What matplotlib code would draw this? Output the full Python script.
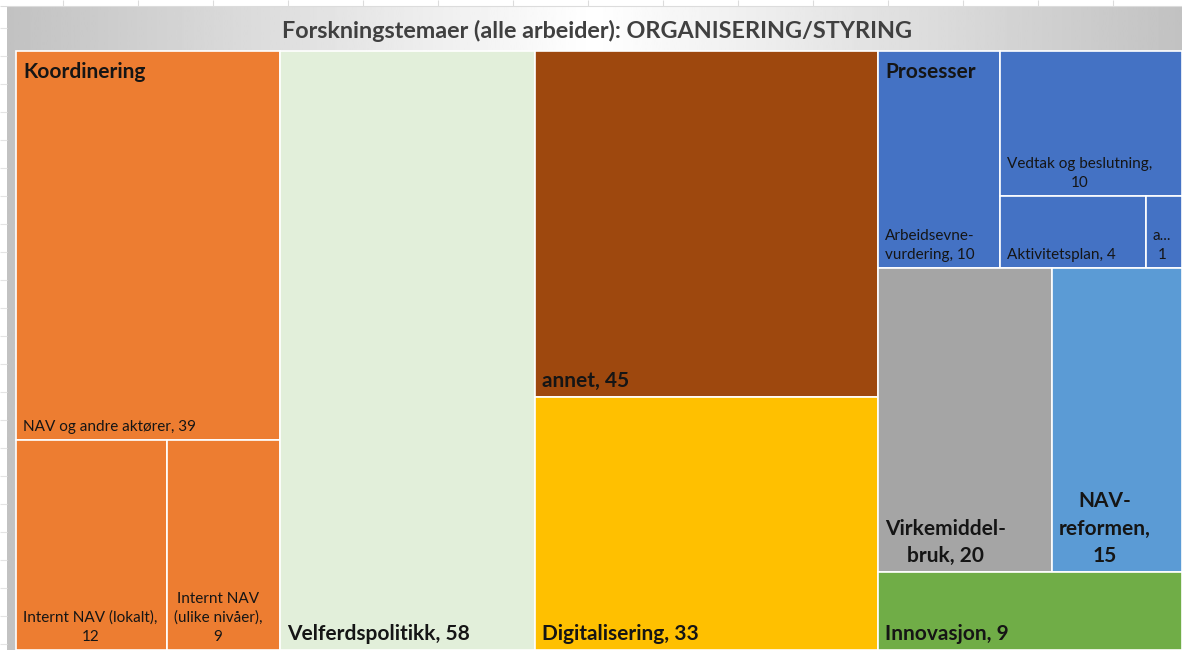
import numpy as np
import matplotlib.pyplot as plt
from matplotlib.patches import Rectangle

plt.rcParams['font.family'] = ['Lato', 'DejaVu Sans']

title = "Forskningstemaer (alle arbeider): ORGANISERING/STYRING"

# leaf categories, their values and the theme they belong to
leaf_names = ["NAV og andre aktører", "Internt NAV (lokalt)", "Internt NAV (ulike nivåer)",
              "Velferdspolitikk", "annet", "Digitalisering",
              "Arbeidsevnevurdering", "Vedtak og beslutning", "Aktivitetsplan", "a...",
              "Virkemiddelbruk", "NAV-reformen", "Innovasjon"]
leaf_values = [39, 12, 9, 58, 45, 33, 10, 10, 4, 1, 20, 15, 9]
leaf_groups = ["Koordinering"] * 3 + ["Velferdspolitikk", "annet", "Digitalisering"] + \
              ["Prosesser"] * 4 + ["Virkemiddelbruk", "NAV-reformen", "Innovasjon"]

group_colors = {
    "Koordinering": "#ED7D31",
    "Velferdspolitikk": "#E2EFDA",
    "annet": "#9E480E",
    "Digitalisering": "#FFC000",
    "Prosesser": "#4472C4",
    "Virkemiddelbruk": "#A5A5A5",
    "NAV-reformen": "#5B9BD5",
    "Innovasjon": "#70AD47",
}

# how Excel wrapped the labels
wrapped = {"Internt NAV (ulike nivåer)": "Internt NAV\n(ulike nivåer)",
           "Arbeidsevnevurdering": "Arbeidsevne-\nvurdering",
           "Virkemiddelbruk": "Virkemiddel-\nbruk",
           "NAV-reformen": "NAV-\nreformen"}
value_below = {"Internt NAV (lokalt)", "Internt NAV (ulike nivåer)",
               "Vedtak og beslutning", "a...", "NAV-reformen"}

# arrangement of the tiles: "h" = side by side, "v" = stacked
tree = ("h", [
    ("v", ["NAV og andre aktører", ("h", ["Internt NAV (lokalt)", "Internt NAV (ulike nivåer)"])]),
    "Velferdspolitikk",
    ("v", ["annet", "Digitalisering"]),
    ("v", [
        ("h", ["Arbeidsevnevurdering",
               ("v", ["Vedtak og beslutning", ("h", ["Aktivitetsplan", "a..."])])]),
        ("h", ["Virkemiddelbruk", "NAV-reformen"]),
        "Innovasjon",
    ]),
])

val = dict(zip(leaf_names, leaf_values))
grp = dict(zip(leaf_names, leaf_groups))
rects = {}


def size(node):
    if isinstance(node, str):
        return val[node]
    return sum(size(k) for k in node[1])


def place(node, x, y, w, h):
    if isinstance(node, str):
        rects[node] = (x, y, w, h)
        return
    d, kids = node
    tot = size(node)
    for k in kids:
        f = size(k) / tot
        if d == "h":
            place(k, x, y, w * f, h)
            x += w * f
        else:
            place(k, x, y, w, h * f)
            y += h * f


place(tree, 16, 51, 1166, 599)

fig = plt.figure(figsize=(11.82, 6.5), dpi=100)
ax = fig.add_axes([0, 0, 1, 1])
ax.set_xlim(0, 1182)
ax.set_ylim(650, 0)
ax.axis('off')

# sheet gridlines peeking out around the chart
ax.hlines(6, 0, 1182, color='#dcdcdc', lw=0.8)
ax.vlines(np.arange(63, 1182, 75), 0, 6, color='#dcdcdc', lw=0.8)
ax.hlines(np.arange(28, 650, 28), 0, 7, color='#e4e4e4', lw=0.8)

# grey-white-grey background of the chart area
n = 300
grad = np.concatenate([np.linspace(0.76, 1.0, n), np.linspace(1.0, 0.76, n)])[None, :]
ax.imshow(grad, cmap='gray', vmin=0, vmax=1, extent=(7, 1182, 650, 6), aspect='auto', zorder=0)

ax.text(597, 31, title, ha='center', va='center', fontsize=16.8,
        fontweight='bold', color='#404040')

counts = {g: leaf_groups.count(g) for g in leaf_groups}

for name in leaf_names:
    x, y, w, h = rects[name]
    g = grp[name]
    ax.add_patch(Rectangle((x, y), w, h, facecolor=group_colors[g],
                           edgecolor='white', lw=1.2, zorder=2))
    if name.endswith("..."):
        sep = "\n"
    elif name in value_below:
        sep = ",\n"
    else:
        sep = ", "
    txt = wrapped.get(name, name) + sep + str(val[name])
    single = counts[g] == 1
    ax.text(x + 7, y + h - 6, txt, ha='left', va='bottom', multialignment='center',
            fontsize=15 if single else 11, fontweight='bold' if single else 'normal',
            color='#151515', linespacing=1.45, zorder=3)

# parent labels for themes with several sub-tiles
for g in group_colors:
    if counts[g] > 1:
        members = [rects[n] for n in leaf_names if grp[n] == g]
        gx = min(r[0] for r in members)
        gy = min(r[1] for r in members)
        ax.text(gx + 7, gy + 11, g, ha='left', va='top', fontsize=15,
                fontweight='bold', color='#151515', zorder=3)

fig.savefig('out.png', dpi=100)
